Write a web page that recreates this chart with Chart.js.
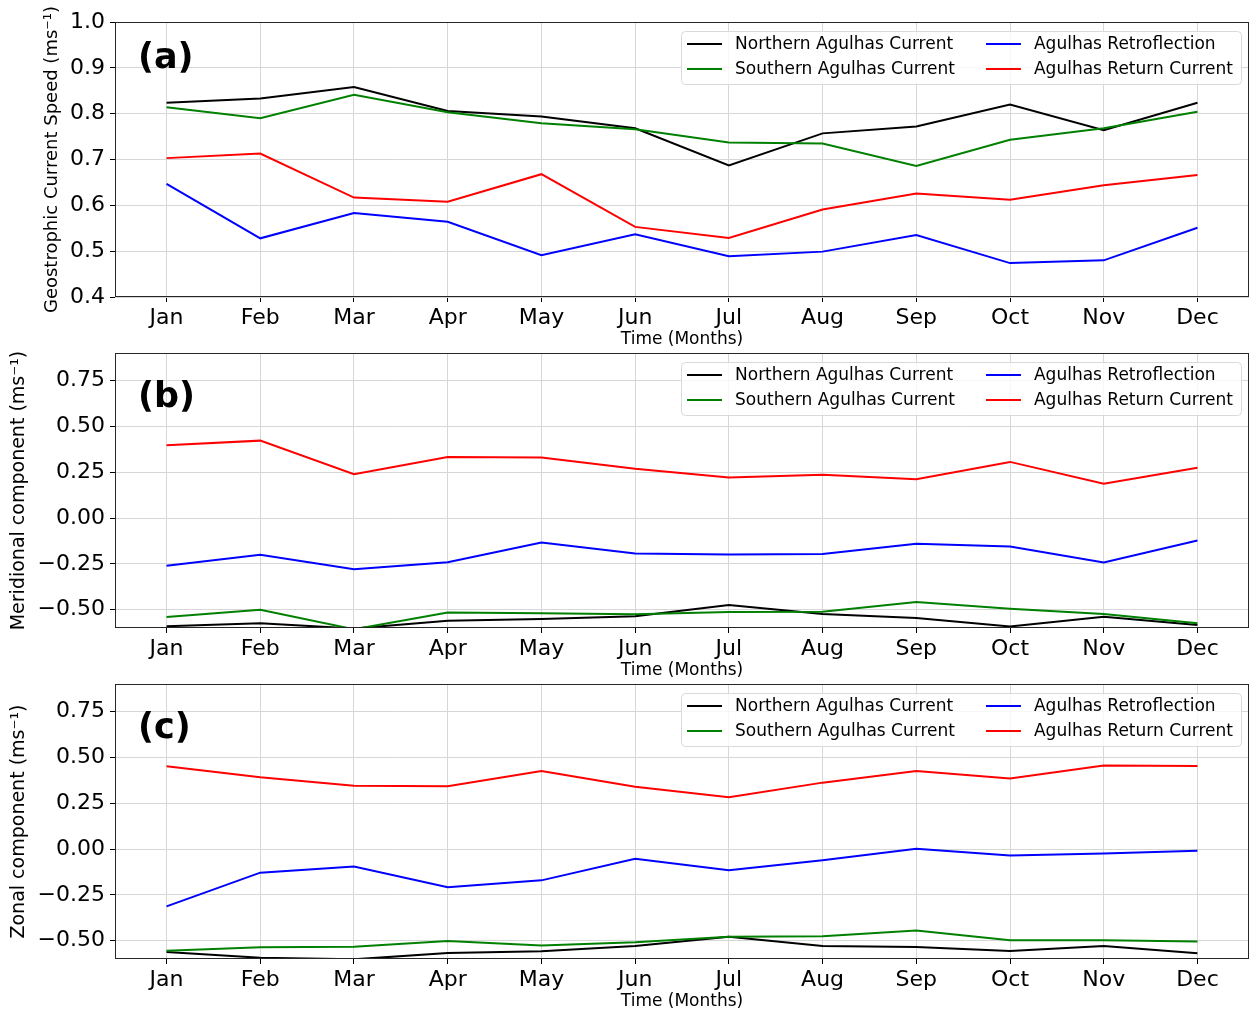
<!DOCTYPE html>
<html>
<head>
<meta charset="utf-8">
<script src="https://cdn.jsdelivr.net/npm/chart.js@4.4.1/dist/chart.umd.min.js"></script>
<style>
  body { margin: 0; background: #fff; width: 1251px; height: 1013px; position: relative; overflow: hidden; }
  canvas { position: absolute; left: 0; }
</style>
</head>
<body>
<canvas id="chartA" width="1251" height="354" style="top:0px"></canvas>
<canvas id="chartB" width="1251" height="354" style="top:331px"></canvas>
<canvas id="chartC" width="1251" height="354" style="top:662px"></canvas>
<script>
const months = ['Jan', 'Feb', 'Mar', 'Apr', 'May', 'Jun', 'Jul', 'Aug', 'Sep', 'Oct', 'Nov', 'Dec'];
const seriesNames = ['Northern Agulhas Current', 'Southern Agulhas Current', 'Agulhas Retroflection', 'Agulhas Return Current'];
const seriesColors = ['#000000', '#008000', '#0000ff', '#ff0000'];

// (a) geostrophic current speed
const speedNorth = [0.824, 0.833, 0.858, 0.806, 0.794, 0.768, 0.687, 0.757, 0.772, 0.820, 0.764, 0.824];
const speedSouth = [0.814, 0.790, 0.841, 0.803, 0.779, 0.766, 0.737, 0.735, 0.686, 0.743, 0.768, 0.804];
const speedRetro = [0.647, 0.528, 0.583, 0.564, 0.491, 0.537, 0.489, 0.499, 0.535, 0.474, 0.480, 0.551];
const speedReturn = [0.703, 0.713, 0.617, 0.608, 0.668, 0.553, 0.529, 0.591, 0.626, 0.612, 0.644, 0.666];

// (b) meridional component
const merNorth = [-0.591, -0.574, -0.603, -0.560, -0.551, -0.536, -0.475, -0.524, -0.545, -0.592, -0.538, -0.583];
const merSouth = [-0.540, -0.500, -0.607, -0.516, -0.520, -0.525, -0.513, -0.511, -0.458, -0.495, -0.524, -0.574];
const merRetro = [-0.261, -0.201, -0.279, -0.241, -0.134, -0.194, -0.199, -0.196, -0.141, -0.156, -0.243, -0.123];
const merReturn = [0.397, 0.422, 0.239, 0.333, 0.330, 0.268, 0.221, 0.236, 0.212, 0.306, 0.187, 0.274];

// (c) zonal component
const zonNorth = [-0.562, -0.593, -0.602, -0.567, -0.558, -0.529, -0.478, -0.529, -0.535, -0.556, -0.529, -0.569];
const zonSouth = [-0.555, -0.536, -0.533, -0.502, -0.527, -0.509, -0.478, -0.476, -0.444, -0.498, -0.498, -0.504];
const zonRetro = [-0.313, -0.129, -0.095, -0.209, -0.171, -0.053, -0.116, -0.062, 0.002, -0.036, -0.025, -0.009];
const zonReturn = [0.451, 0.391, 0.345, 0.342, 0.425, 0.340, 0.282, 0.362, 0.425, 0.384, 0.456, 0.453];

const speedTicks = [0.4, 0.5, 0.6, 0.7, 0.8, 0.9, 1.0];
const compTicks = [-0.5, -0.25, 0, 0.25, 0.5, 0.75];

Chart.defaults.font.family = '"DejaVu Sans", sans-serif';
Chart.defaults.color = '#000';

// frame round the plot area, like matplotlib spines
const framePlugin = {
  id: 'frame',
  afterDatasetsDraw: function(chart) {
    const a = chart.chartArea;
    const ctx = chart.ctx;
    ctx.save();
    ctx.strokeStyle = '#262626';
    ctx.lineWidth = 1;
    ctx.strokeRect(Math.round(a.left) + 0.5, Math.round(a.top) + 0.5,
      Math.round(a.right - a.left) - 1, Math.round(a.bottom - a.top) - 1);
    ctx.restore();
  },
};

// two-column legend box in the upper right, filled column by column
const boxLegend = {
  id: 'boxLegend',
  afterDraw: function(chart) {
    const ctx = chart.ctx;
    const area = chart.chartArea;
    const sets = chart.data.datasets;
    ctx.save();
    ctx.font = '17px "DejaVu Sans"';
    const w1 = Math.max(ctx.measureText(sets[0].label).width, ctx.measureText(sets[1].label).width);
    const w2 = Math.max(ctx.measureText(sets[2].label).width, ctx.measureText(sets[3].label).width);
    const handle = 35, gap = 13, colGap = 31, pad = 6;
    const width = pad + handle + gap + w1 + colGap + handle + gap + w2 + 8;
    const left = area.right - 8 - width;
    const top = area.top + 9;
    ctx.beginPath();
    ctx.roundRect(left + 0.5, top + 0.5, width, 53, 4);
    ctx.fillStyle = 'rgba(255,255,255,0.8)';
    ctx.fill();
    ctx.strokeStyle = '#d9d9d9';
    ctx.lineWidth = 1;
    ctx.stroke();
    const cols = [left + pad, left + pad + handle + gap + w1 + colGap];
    sets.forEach(function(ds, i) {
      const x = cols[Math.floor(i / 2)];
      const y = top + 13 + (i % 2) * 25;
      ctx.strokeStyle = ds.borderColor;
      ctx.lineWidth = 2;
      ctx.beginPath();
      ctx.moveTo(x, y);
      ctx.lineTo(x + handle, y);
      ctx.stroke();
      ctx.fillStyle = '#000';
      ctx.textBaseline = 'middle';
      ctx.fillText(ds.label, x + handle + gap, y + 1);
    });
    ctx.restore();
  },
};

const panelLabel = {
  id: 'panelLabel',
  afterDraw: function(chart, args, opts) {
    const ctx = chart.ctx;
    const area = chart.chartArea;
    ctx.save();
    ctx.font = 'bold 35px "DejaVu Sans"';
    ctx.fillStyle = '#000';
    ctx.textBaseline = 'middle';
    ctx.fillText(opts.text, area.left + 23, area.top + opts.dy);
    ctx.restore();
  },
};

function fmtTick(v, digits) {
  return v.toFixed(digits).replace('-', '\u2212');
}

function makePanel(id, series, cfg) {
  const datasets = series.map(function(values, i) {
    return {
      label: seriesNames[i],
      data: values.map(function(v, k) { return {x: k, y: v}; }),
      borderColor: seriesColors[i],
      backgroundColor: seriesColors[i],
      borderWidth: 2,
      pointRadius: 0,
      tension: 0,
      order: series.length - i,
    };
  });
  return new Chart(document.getElementById(id), {
    type: 'line',
    data: {datasets: datasets},
    options: {
      responsive: false,
      animation: false,
      layout: {padding: {top: 22, left: cfg.padLeft, right: 2, bottom: 0}},
      scales: {
        x: {
          type: 'linear',
          min: -0.55,
          max: 11.55,
          afterBuildTicks: function(scale) {
            scale.ticks = months.map(function(m, i) { return {value: i}; });
          },
          afterFit: function(scale) { scale.height = 57; },
          ticks: {
            callback: function(v) { return months[v]; },
            font: {size: 22},
            color: '#000',
            padding: 3,
            maxRotation: 0,
            autoSkip: false,
          },
          grid: {color: '#d7d7d7', tickColor: '#000', tickLength: 5},
          border: {display: false},
          title: {display: true, text: 'Time (Months)', font: {size: 17}, color: '#000', padding: {top: 0, bottom: 4}},
        },
        y: {
          min: cfg.min,
          max: cfg.max,
          afterBuildTicks: function(scale) {
            scale.ticks = cfg.ticks.map(function(v) { return {value: v}; });
          },
          afterFit: function(scale) { scale.width = 115 - cfg.padLeft; },
          ticks: {
            callback: function(v) { return fmtTick(v, cfg.digits); },
            font: {size: 22},
            color: '#000',
            padding: 5,
          },
          grid: {color: '#d7d7d7', tickColor: '#000', tickLength: 5},
          border: {display: false},
          title: {display: true, text: cfg.title, font: {size: cfg.titleSize}, color: '#000', padding: {top: 4, bottom: 0}},
        },
      },
      plugins: {
        legend: {display: false},
        tooltip: {enabled: false},
        panelLabel: {text: cfg.label, dy: cfg.labelDy},
      },
    },
    plugins: [framePlugin, boxLegend, panelLabel],
  });
}

makePanel('chartA', [speedNorth, speedSouth, speedRetro, speedReturn], {
  min: 0.4, max: 1.0, ticks: speedTicks, digits: 1, padLeft: 38, titleSize: 18,
  title: 'Geostrophic Current Speed (ms\u207B\u00B9)', label: '(a)', labelDy: 37,
});
makePanel('chartB', [merNorth, merSouth, merRetro, merReturn], {
  min: -0.6, max: 0.9, ticks: compTicks, digits: 2, padLeft: 4, titleSize: 19,
  title: 'Meridional component (ms\u207B\u00B9)', label: '(b)', labelDy: 45,
});
makePanel('chartC', [zonNorth, zonSouth, zonRetro, zonReturn], {
  min: -0.6, max: 0.9, ticks: compTicks, digits: 2, padLeft: 4, titleSize: 19,
  title: 'Zonal component (ms\u207B\u00B9)', label: '(c)', labelDy: 45,
});
</script>
</body>
</html>
